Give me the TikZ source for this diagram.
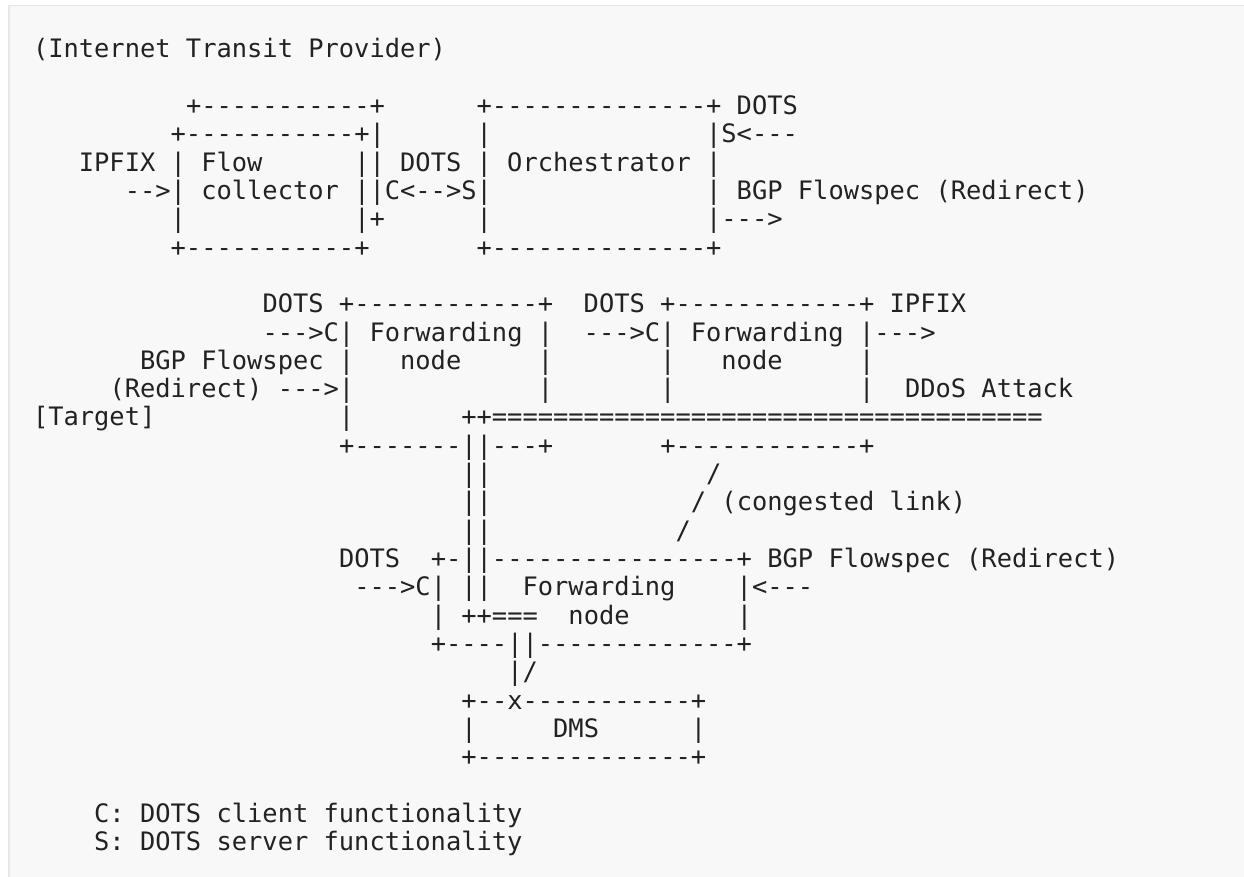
\documentclass[tikz,border=0pt]{standalone}
\usepackage{fontspec}
\newfontfamily\asciifont{DejaVu Sans Mono}
\definecolor{ink}{HTML}{222222}
\definecolor{panelbg}{HTML}{F8F8F8}
\definecolor{panelborder}{HTML}{E8E8E8}
\newlength\cw
\newcommand\spc[1]{\hspace*{#1\cw}}
\tikzset{ascii/.style={anchor=base west, inner sep=0pt, outer sep=0pt, text=ink,
  font=\asciifont\fontsize{25.41pt}{28.33pt}\selectfont\frenchspacing\settowidth{\cw}{x}}}
\newcommand\asciiline[4]{\node[ascii] (#1) at ({(33+15.3*#3)*1pt},{-(57.7+28.33*(#2-1))*1pt}) {#4};}
\begin{document}
\begin{tikzpicture}
\useasboundingbox (0pt,0pt) rectangle (1244pt,-877pt);
\clip (0pt,0pt) rectangle (1244pt,-877pt);
\fill[white] (0pt,0pt) rectangle (1244pt,-877pt);
\draw[panelborder, fill=panelbg, line width=1.6pt] (9pt,-5.5pt) rectangle (1260pt,-900pt);
\asciiline{l1}{1}{0}{(Internet~Transit~Provider)}
\asciiline{l3}{3}{10}{+-----------+\spc{6}+--------------+~DOTS}
\asciiline{l4}{4}{9}{+-----------+|\spc{6}|\spc{14}|S<---}
\asciiline{l5}{5}{3}{IPFIX~|~Flow\spc{6}||~DOTS~|~Orchestrator~|}
\asciiline{l6}{6}{6}{-->|~collector~||C<-->S|\spc{14}|~BGP~Flowspec~(Redirect)}
\asciiline{l7}{7}{9}{|\spc{11}|+\spc{6}|\spc{14}|--->}
\asciiline{l8}{8}{9}{+-----------+\spc{7}+--------------+}
\asciiline{l10}{10}{15}{DOTS~+------------+\spc{2}DOTS~+------------+~IPFIX}
\asciiline{l11}{11}{15}{--->C|~Forwarding~|\spc{2}--->C|~Forwarding~|--->}
\asciiline{l12}{12}{7}{BGP~Flowspec~|\spc{3}node\spc{5}|\spc{7}|\spc{3}node\spc{5}|}
\asciiline{l13}{13}{5}{(Redirect)~--->|\spc{12}|\spc{7}|\spc{12}|\spc{2}DDoS~Attack}
\asciiline{l14}{14}{0}{[Target]\spc{12}|\spc{7}++====================================}
\asciiline{l15}{15}{20}{+-------||---+\spc{7}+------------+}
\asciiline{l16}{16}{28}{||\spc{14}/}
\asciiline{l17}{17}{28}{||\spc{13}/~(congested~link)}
\asciiline{l18}{18}{28}{||\spc{12}/}
\asciiline{l19}{19}{20}{DOTS\spc{2}+-||----------------+~BGP~Flowspec~(Redirect)}
\asciiline{l20}{20}{21}{--->C|~||\spc{2}Forwarding\spc{4}|<---}
\asciiline{l21}{21}{26}{|~++===\spc{2}node\spc{7}|}
\asciiline{l22}{22}{26}{+----||-------------+}
\asciiline{l23}{23}{31}{|/}
\asciiline{l24}{24}{28}{+--x-----------+}
\asciiline{l25}{25}{28}{|\spc{5}DMS\spc{6}|}
\asciiline{l26}{26}{28}{+--------------+}
\asciiline{l28}{28}{4}{C:~DOTS~client~functionality}
\asciiline{l29}{29}{4}{S:~DOTS~server~functionality}
\end{tikzpicture}
\end{document}
